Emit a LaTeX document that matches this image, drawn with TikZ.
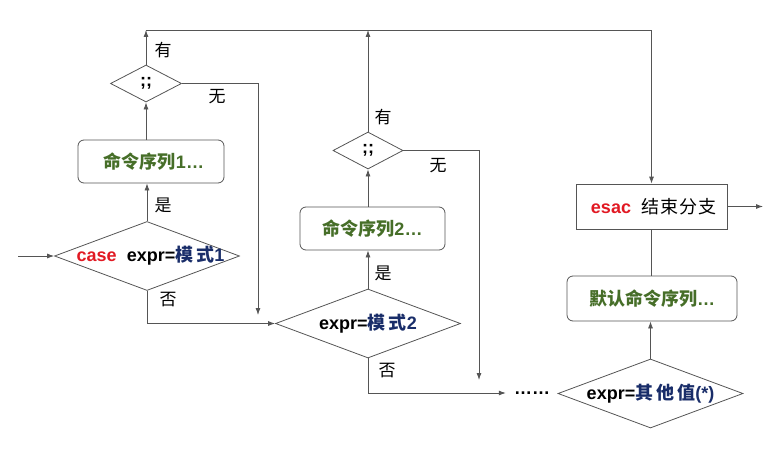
\documentclass[tikz,border=0pt]{standalone}
\usepackage{fontspec}
\setmainfont{Liberation Sans}
\newfontfamily\cjk{Noto Sans CJK SC}
\usetikzlibrary{shapes.geometric,arrows.meta}
\definecolor{casered}{RGB}{225,25,35}
\definecolor{patblue}{RGB}{25,45,105}
\definecolor{cmdgreen}{RGB}{70,110,40}
\definecolor{linegray}{RGB}{85,85,85}
\begin{document}
	\begin{tikzpicture}[x=1pt,y=-1pt,
			font=\fontsize{18}{21}\selectfont\bfseries,
			line/.style={draw=linegray,line width=0.8pt},
			flow/.style={line,-{Latex[length=7pt,width=5pt]}},
			decision/.style={draw=linegray,line width=0.8pt,diamond,aspect=2.7,inner sep=0pt,minimum width=185pt,minimum height=69pt},
			semi/.style={decision,minimum width=71pt,minimum height=37pt},
			cmdbox/.style={draw=linegray,line width=0.8pt,rectangle,rounded corners=6pt,minimum height=43pt,text=cmdgreen},
			endbox/.style={draw=linegray,line width=0.8pt,rectangle,minimum width=151pt,minimum height=45pt},
			tag/.style={font=\fontsize{17}{19}\selectfont\cjk,inner sep=0pt}]
		\useasboundingbox (0,0) rectangle (776,460);
		\node[decision] (case) at (147,256) {\makebox[0pt]{\hspace{7pt}\color{casered}case\ \ \color{black}expr=\color{patblue}{\cjk 模\,式}1}};
		\node[semi] (semi1) at (146,83.5) {\makebox[0pt]{;;}};
		\node[cmdbox,minimum width=146pt] (cmd1) at (151,161.5) {\hspace{6pt}{\cjk 命令序列}1…};
		\node[decision] (pat2) at (368,323.5) {\makebox[0pt]{expr=\color{patblue}{\cjk 模\,式}2}};
		\node[cmdbox,minimum width=145pt] (cmd2) at (372.5,228.5) {{\cjk 命令序列}2…};
		\node[inner sep=8pt] (dots) at (532,393) {……};
		\node[semi,minimum width=70pt] (semi2) at (368,150.5) {\makebox[0pt]{;;}};
		\node[decision] (other) at (650.5,393.5) {\makebox[0pt]{expr=\color{patblue}{\cjk 其\,他\,值}(*)}};
		\node[cmdbox,minimum width=170pt,minimum height=45pt] (dflt) at (652,298.5) {{\cjk 默认命令序列}…};
		\node[endbox] (esac) at (651.5,206.5) {\hspace{4pt}\color{casered}esac\ \ \color{black}{\cjk\mdseries 结\kern1pt 束\kern1pt 分\kern1pt 支}};
		\coordinate (entry) at (18,256);
		\coordinate (top) at (0,30);
		\coordinate (drop1) at (258,315);
		\coordinate (drop2) at (479,380);
		\coordinate (exit) at (763,206.5);
		\draw[flow] (entry) -- (case.west);
		\draw[flow] (case.north) -- (case.north |- cmd1.south);
		\draw[flow] (semi1.south |- cmd1.north) -- (semi1.south);
		\draw[flow] (semi1.north) -- (semi1.north |- top);
		\draw[flow] (semi1.north |- top) -| (esac.north);
		\draw[flow] (semi1.east) -| (drop1);
		\draw[flow] (case.south) |- (pat2.west);
		\draw[flow] (pat2.north) -- (pat2.north |- cmd2.south);
		\draw[flow] (semi2.south |- cmd2.north) -- (semi2.south);
		\draw[flow] (semi2.north) -- (semi2.north |- top);
		\draw[flow] (semi2.east) -| (drop2);
		\draw[flow] (pat2.south) |- (dots.west);
		\draw[flow] (other.north) -- (other.north |- dflt.south);
		\draw[line] (esac.south |- dflt.north) -- (esac.south);
		\draw[flow] (esac.east) -- (exit);
		\node[tag] (yes1) at (163,50) {有};
		\node[tag] (no1) at (217,97) {无};
		\node[tag] (ok1) at (163,205) {是};
		\node[tag] (else1) at (168,300) {否};
		\node[tag] (ok2) at (383,273) {是};
		\node[tag] (yes2) at (383,117) {有};
		\node[tag] (no2) at (438,166) {无};
		\node[tag] (else2) at (387,371) {否};
	\end{tikzpicture}
\end{document}
